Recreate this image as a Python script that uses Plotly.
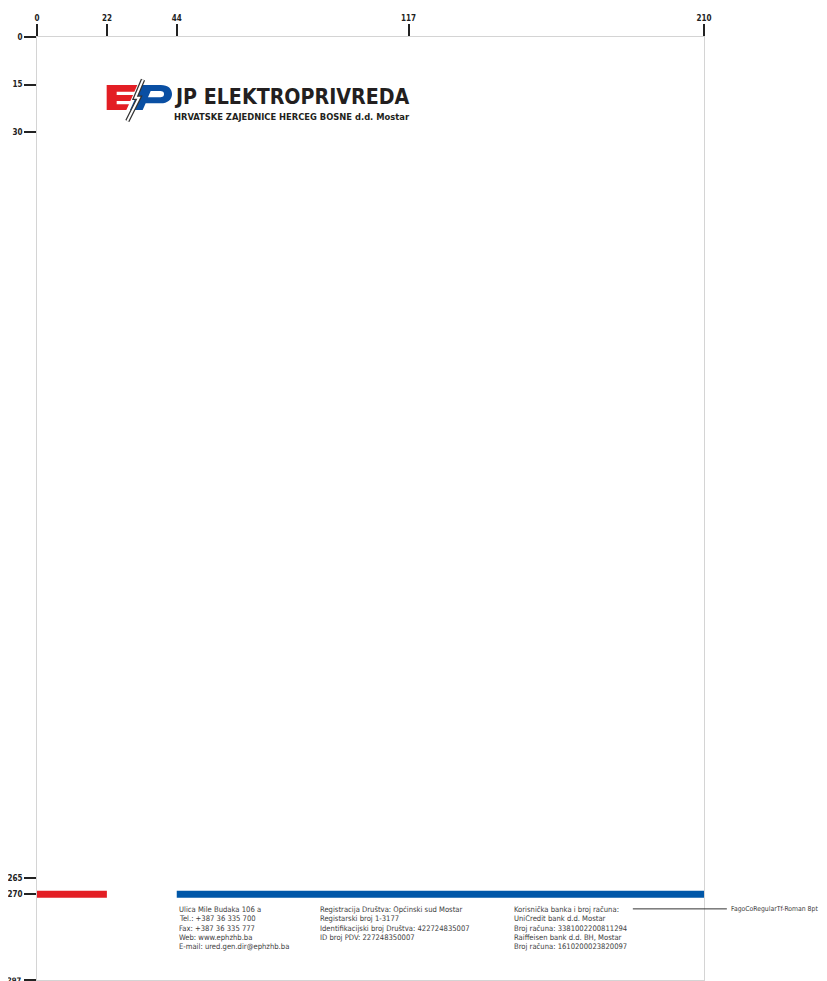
import plotly.graph_objects as go

# ---- page / ruler data (mm) ----
page_width_mm = 210
page_height_mm = 297
x_ticks = [0, 22, 44, 117, 210]
y_ticks = [0, 15, 30, 265, 270, 297]

# colour bars at 270 mm
red_bar_x = [0, 22]
blue_bar_x = [44, 210]
bar_y = 270
bar_thickness = 2.2

# header texts
title_text = "JP ELEKTROPRIVREDA"
subtitle_text = "HRVATSKE ZAJEDNICE HERCEG BOSNE d.d. Mostar"

# footer columns
col1_lines = [
    "Ulica Mile Budaka 106 a",
    "Tel.: +387 36 335 700",
    "Fax: +387 36 335 777",
    "Web: www.ephzhb.ba",
    "E-mail: ured.gen.dir@ephzhb.ba",
]
col2_lines = [
    "Registracija Društva: Općinski sud Mostar",
    "Registarski broj 1-3177",
    "Identifikacijski broj Društva: 422724835007",
    "ID broj PDV: 227248350007",
]
col3_lines = [
    "Korisnička banka i broj računa:",
    "UniCredit bank d.d. Mostar",
    "Broj računa: 3381002200811294",
    "Raiffeisen bank d.d. BH, Mostar",
    "Broj računa: 1610200023820097",
]
col_x_mm = [44, 88.5, 149.4]
footer_top_mm = 274.8
footer_step_mm = 2.93
font_note = "FagoCoRegularTf-Roman 8pt"

RED = "#e31e24"
BLUE = "#0a4fa3"
BAR_BLUE = "#0057a8"
DARK = "#231f20"
FONT = "DejaVu Sans Condensed, Liberation Sans Narrow, sans-serif"

# logo geometry helper: local logo units -> mm
def L(sx, sy):
    px = 100 + sx / 3.0
    py = 75 + sy / 3.0
    return ((px - 37) / 3.176, (py - 37) / 3.176)

def path(points, close=True):
    s = ""
    for i, (sx, sy) in enumerate(points):
        x, y = L(sx, sy)
        s += ("M" if i == 0 else "L") + f"{x:.3f},{y:.3f} "
    if close:
        s += "Z"
    return s

def curve_path(cmds):
    s = ""
    for c in cmds:
        op = c[0]
        pts = c[1:]
        s += op
        s += " ".join(f"{L(*p)[0]:.3f},{L(*p)[1]:.3f}" for p in pts) + " "
    return s

fig = go.Figure()
fig.add_trace(go.Scatter(x=[], y=[], showlegend=False, hoverinfo="skip"))

shapes = []
# colour bars
shapes.append(dict(type="rect", xref="x", yref="y",
                   x0=red_bar_x[0], x1=red_bar_x[1],
                   y0=bar_y - bar_thickness / 2, y1=bar_y + bar_thickness / 2,
                   fillcolor=RED, line=dict(width=0)))
shapes.append(dict(type="rect", xref="x", yref="y",
                   x0=blue_bar_x[0], x1=blue_bar_x[1],
                   y0=bar_y - bar_thickness / 2, y1=bar_y + bar_thickness / 2,
                   fillcolor=BAR_BLUE, line=dict(width=0)))

# logo: E
e_pts = [(20, 30), (112, 30), (103, 50), (50, 50), (50, 60), (99, 60), (91, 78),
         (50, 78), (50, 88), (87, 88), (79, 105), (20, 105)]
shapes.append(dict(type="path", xref="x", yref="y", path=path(e_pts),
                   fillcolor=RED, line=dict(width=0)))
# logo: P
p_path = curve_path([
    ("M", (124, 30)), ("L", (182, 30)),
    ("C", (205, 30), (216, 42), (216, 57)),
    ("C", (216, 74), (203, 85), (182, 85)),
    ("L", (137, 85)), ("L", (128, 105)), ("L", (90, 105)),
]) + "Z"
shapes.append(dict(type="path", xref="x", yref="y", path=p_path,
                   fillcolor=BLUE, line=dict(width=0)))
hole_path = curve_path([
    ("M", (152, 48)), ("L", (178, 48)),
    ("C", (189, 48), (192, 52), (192, 57)),
    ("C", (192, 63), (189, 67), (178, 67)),
    ("L", (144, 67)),
]) + "Z"
shapes.append(dict(type="path", xref="x", yref="y", path=hole_path,
                   fillcolor="white", line=dict(width=0)))
# logo: lightning bolt
bolt = [(129, 14), (106, 68), (117, 68), (82, 138)]
shapes.append(dict(type="path", xref="x", yref="y", path=path(bolt, close=False),
                   line=dict(color="#333333", width=4.5)))
shapes.append(dict(type="path", xref="x", yref="y", path=path(bolt, close=False),
                   line=dict(color="white", width=2)))

# pointer line for font note (outside plot area -> paper refs)
note_y_mm = 274.6
shapes.append(dict(type="line", xref="paper", yref="paper",
                   x0=187.6 / page_width_mm, x1=217.2 / page_width_mm,
                   y0=1 - note_y_mm / page_height_mm, y1=1 - note_y_mm / page_height_mm,
                   line=dict(color="#333333", width=1)))

annotations = []
annotations.append(dict(x=42.6, y=18.8, xref="x", yref="y", text=title_text,
                        showarrow=False, xanchor="left", yanchor="middle",
                        font=dict(family=FONT, size=21.2, color=DARK, weight="bold")))
annotations.append(dict(x=42.6, y=24.9, xref="x", yref="y", text=subtitle_text,
                        showarrow=False, xanchor="left", yanchor="middle",
                        font=dict(family=FONT, size=9.3, color=DARK, weight="bold")))

for cx, lines in zip(col_x_mm, [col1_lines, col2_lines, col3_lines]):
    for i, t in enumerate(lines):
        annotations.append(dict(x=cx, y=footer_top_mm + i * footer_step_mm,
                                xref="x", yref="y", text=t, showarrow=False,
                                xanchor="left", yanchor="middle",
                                font=dict(family=FONT, size=7.6, color="#3c3c3c")))

annotations.append(dict(x=218.0 / page_width_mm, y=1 - note_y_mm / page_height_mm,
                        xref="paper", yref="paper", text=font_note, showarrow=False,
                        xanchor="left", yanchor="middle",
                        font=dict(family=FONT, size=6.8, color="#3c3c3c")))

# last ruler label sits on the page edge (partly cut, as in the reference)
y_ticktext = [str(v) for v in y_ticks]
y_ticktext[-1] = ""
annotations.append(dict(x=-13 / 667, y=0, xref="paper", yref="paper",
                        text=str(y_ticks[-1]), showarrow=False,
                        xanchor="right", yanchor="middle",
                        font=dict(family=FONT, size=7.6, color="#222222", weight="bold")))

# the page body adds an 8 px offset, so the figure is 8 px smaller than the window
fig.update_layout(
    width=819, height=973,
    margin=dict(l=29, r=123, t=29, b=1, autoexpand=False),
    paper_bgcolor="white", plot_bgcolor="white",
    showlegend=False,
    shapes=shapes,
    annotations=annotations,
    xaxis=dict(range=[0, page_width_mm], side="top", tickvals=x_ticks,
               ticktext=[str(v) for v in x_ticks], automargin=False,
               ticks="outside", ticklen=12, tickwidth=2, tickcolor="#222222",
               showgrid=False, zeroline=False, showline=True, mirror=True,
               linecolor="#d4d4d4", linewidth=1, fixedrange=True,
               tickfont=dict(family=FONT, size=8, color="#222222", weight="bold")),
    yaxis=dict(range=[page_height_mm, 0], tickvals=y_ticks,
               ticktext=y_ticktext, automargin=False,
               ticks="outside", ticklen=12, tickwidth=2, tickcolor="#222222",
               showgrid=False, zeroline=False, showline=True, mirror=True,
               linecolor="#d4d4d4", linewidth=1, fixedrange=True,
               tickfont=dict(family=FONT, size=8, color="#222222", weight="bold")),
)

fig.write_html("out.html")
